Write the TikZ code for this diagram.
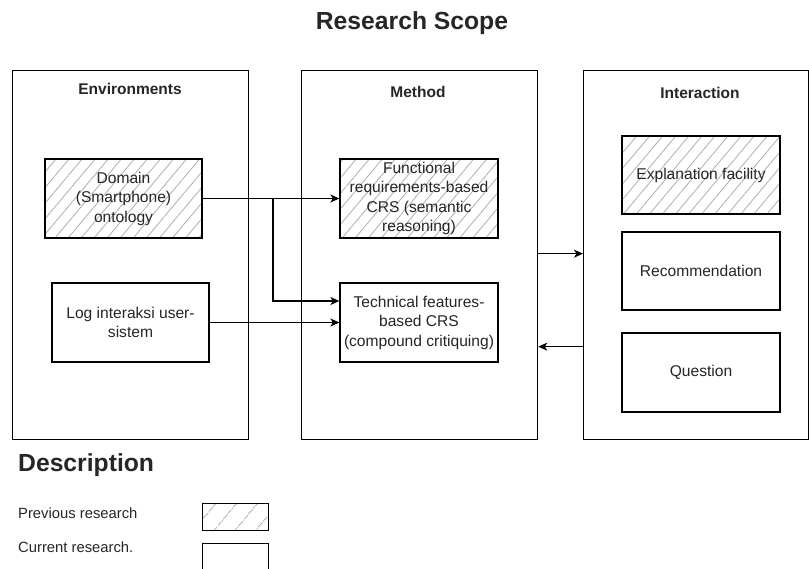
\documentclass[tikz,border=0pt]{standalone}
\usepackage{fontspec}
\setmainfont{Liberation Sans}
\usetikzlibrary{arrows.meta,patterns.meta}
\begin{document}
\begin{tikzpicture}[x=1pt,y=-1pt,
  every node/.style={text=black!85},
  frame/.style={draw=black, line width=1.3pt, anchor=north west, inner sep=0pt},
  inbox/.style={draw=black, line width=1.3pt, inner sep=0pt, align=center,
    font=\fontsize{15.6}{19.5}\selectfont},
  hatched/.style={preaction={pattern={Lines[angle=50,distance=10pt,line width=0.7pt]}, pattern color=black!35}},
  widehatched/.style={preaction={pattern={Lines[angle=50,distance=17pt,line width=0.7pt]}, pattern color=black!35}},
  head/.style={font=\fontsize{15.5}{18}\selectfont\bfseries},
  arr/.style={draw=black, line width=1.3pt, -{Stealth[length=9pt,width=8pt,inset=2.5pt]}},
  legtext/.style={font=\fontsize{14.8}{18}\selectfont, anchor=west, inner sep=0pt}
]
\useasboundingbox (0,0) rectangle (809,568);
\fill[white] (0,0) rectangle (809,568);

% title
\node[font=\fontsize{24.7}{28}\selectfont\bfseries] (title) at (412,23) {Research Scope};

% containers
\node[frame, minimum width=236pt, minimum height=369pt] (env) at (12,70) {};
\node[frame, minimum width=236pt, minimum height=369pt] (met) at (301,70) {};
\node[frame, minimum width=225pt, minimum height=369pt] (int) at (583,70) {};
\node[head] (envt) at (130,89) {Environments};
\node[head] (mett) at (418,92) {Method};
\node[head] (intt) at (700,93) {Interaction};

% environment boxes
\node[inbox, hatched, minimum width=157pt, minimum height=79pt] (dom) at (123.5,198.5) {Domain\\(Smartphone)\\ontology};
\node[inbox, minimum width=157pt, minimum height=79pt] (log) at (130.5,322.5) {Log interaksi user-\\sistem};

% method boxes
\node[inbox, hatched, minimum width=158pt, minimum height=79pt] (fun) at (419,198.5) {Functional\\requirements-based\\CRS (semantic\\reasoning)};
\node[inbox, minimum width=158pt, minimum height=79pt] (tec) at (419,322.5) {Technical features-\\based CRS\\(compound critiquing)};

% interaction boxes
\node[inbox, hatched, minimum width=158pt, minimum height=78pt] (exp) at (701,175) {Explanation facility};
\node[inbox, minimum width=158pt, minimum height=78pt] (rec) at (701,271) {Recommendation};
\node[inbox, minimum width=158pt, minimum height=79pt] (que) at (701,372.5) {Question};

% connectors
\draw[arr] (dom.east) -- (fun.west);
\coordinate (br) at (273,198.5);
\draw[arr] (br) |- ([yshift=21.5pt]tec.west);
\draw[arr] (log.east) -- (tec.west);
\draw[arr] ([yshift=1.5pt]met.east) -- ([yshift=1.5pt]int.west);
\draw[arr] ([yshift=-91.5pt]int.west) -- ([yshift=-91.5pt]met.east);

% legend
\node[font=\fontsize{24.7}{28}\selectfont\bfseries, anchor=west, inner sep=0pt] (desc) at (18,465) {Description};
\node[legtext] (prev) at (18,513) {Previous research};
\node[legtext] (curr) at (18,547) {Current research.};
\node[draw=black, line width=1.3pt, widehatched, anchor=north west, inner sep=0pt, minimum width=66pt, minimum height=27pt] (legh) at (202,503) {};
\node[draw=black, line width=1.3pt, anchor=north west, inner sep=0pt, minimum width=66pt, minimum height=28pt] (legp) at (202,543) {};
\end{tikzpicture}
\end{document}
